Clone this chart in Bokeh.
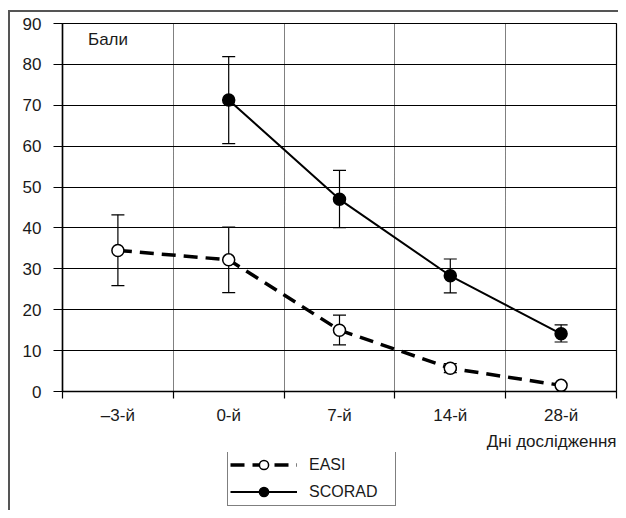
from bokeh.plotting import figure
from bokeh.layouts import column
from bokeh.models import (FixedTicker, Whisker, TeeHead, ColumnDataSource, Label,
                          Legend, LegendItem, Range1d, Title)
from bokeh.embed import file_html
from bokeh.resources import INLINE

# ---- data ----
categories = ["\u20133-й", "0-й", "7-й", "14-й", "28-й"]
easi_mean = [34.5, 32.2, 15.0, 5.7, 1.5]
easi_upper = [43.2, 40.2, 18.7, 6.8, 1.5]
easi_lower = [25.9, 24.2, 11.4, 4.6, 1.5]
scorad_days = ["0-й", "7-й", "14-й", "28-й"]
scorad_mean = [71.3, 47.0, 28.3, 14.1]
scorad_upper = [81.9, 54.1, 32.4, 16.3]
scorad_lower = [60.6, 40.1, 24.1, 12.1]
y_ticks = [0, 10, 20, 30, 40, 50, 60, 70, 80, 90]
y_title = "Бали"
x_title = "Дні дослідження"
series_names = ["EASI", "SCORAD"]

FONT = "Liberation Sans"
TXT = "#1a1a1a"
pos = {c: i + 1 for i, c in enumerate(categories)}

p = figure(width=608, height=440, output_backend="svg", toolbar_location=None,
           x_range=Range1d(0.5, len(categories) + 0.5), y_range=Range1d(0, 90),
           min_border_left=52, min_border_right=2, min_border_top=11, min_border_bottom=59)
p.outline_line_color = "black"
p.outline_line_width = 1.2
p.background_fill_color = "white"
p.border_fill_alpha = 0

# axes
p.xaxis.ticker = FixedTicker(ticks=[pos[c] for c in categories],
                             minor_ticks=[i + 0.5 for i in range(len(categories) + 1)])
p.xaxis.major_label_overrides = {pos[c]: c for c in categories}
p.xaxis.major_tick_line_color = None
p.xaxis.major_tick_out = 7
p.xaxis.major_tick_in = 0
p.xaxis.minor_tick_line_color = "black"
p.xaxis.minor_tick_out = 7
p.xaxis.minor_tick_in = 0
p.xaxis.minor_tick_line_width = 1.2
p.xaxis.major_label_standoff = 7
p.xaxis.axis_line_color = "black"
p.xaxis.axis_line_width = 1.5

p.yaxis.ticker = FixedTicker(ticks=y_ticks, minor_ticks=[])
p.yaxis.major_tick_out = 9
p.yaxis.major_tick_in = 0
p.yaxis.major_tick_line_width = 1.2
p.yaxis.major_tick_line_color = "black"
p.yaxis.minor_tick_line_color = None
p.yaxis.major_label_standoff = 12
p.yaxis.axis_line_color = "black"
p.yaxis.axis_line_width = 1.5

for ax in (p.xaxis[0], p.yaxis[0]):
    ax.major_label_text_font = FONT
    ax.major_label_text_font_size = "17px"
    ax.major_label_text_color = TXT

# grids
p.ygrid.ticker = FixedTicker(ticks=y_ticks, minor_ticks=[])
p.ygrid.grid_line_color = "black"
p.ygrid.grid_line_width = 1.2
p.ygrid.grid_line_alpha = 1
p.xgrid.ticker = FixedTicker(ticks=[i + 1.5 for i in range(len(categories) - 1)], minor_ticks=[])
p.xgrid.grid_line_color = "black"
p.xgrid.grid_line_width = 1
p.xgrid.grid_line_dash = "1 1"

EASI_LINE = dict(line_color="black", line_width=3.5, line_dash="14 8")
EASI_MARK = dict(size=12, marker="circle", fill_color="white", line_color="black", line_width=1.5)
SC_LINE = dict(line_color="black", line_width=2)
SC_MARK = dict(size=12, marker="circle", fill_color="black", line_color="black", line_width=1.5)

def whisker(src):
    return Whisker(source=src, base="x", lower="lo", upper="hi", line_color="black", line_width=1.2,
                   upper_head=TeeHead(size=13, line_color="black", line_width=1.2),
                   lower_head=TeeHead(size=13, line_color="black", line_width=1.2))

# EASI
ex = [pos[c] for c in categories]
esrc = ColumnDataSource(dict(x=ex, y=easi_mean))
ew = [(x, lo, hi) for x, lo, hi in zip(ex, easi_lower, easi_upper) if hi > lo]
ewsrc = ColumnDataSource(dict(x=[a[0] for a in ew], lo=[a[1] for a in ew], hi=[a[2] for a in ew]))
p.add_layout(whisker(ewsrc))
p.line("x", "y", source=esrc, **EASI_LINE)
p.scatter("x", "y", source=esrc, **EASI_MARK)

# SCORAD
sx = [pos[c] for c in scorad_days]
ssrc = ColumnDataSource(dict(x=sx, y=scorad_mean, lo=scorad_lower, hi=scorad_upper))
p.add_layout(whisker(ssrc))
p.line("x", "y", source=ssrc, **SC_LINE)
p.scatter("x", "y", source=ssrc, **SC_MARK)

# titles
p.add_layout(Label(x=0.73, y=88.5, text=y_title, text_font=FONT, text_font_size="17px",
                   text_baseline="top", text_color=TXT))
p.add_layout(Title(text=x_title, align="right", text_font=FONT, text_font_size="17px",
                   text_font_style="normal", text_color=TXT, offset=0, standoff=4), "below")

# legend figure (series drawn off-range, only their legend glyphs are visible)
lf = figure(width=608, height=58, output_backend="svg", toolbar_location=None,
            x_range=Range1d(100, 101), y_range=Range1d(100, 101), min_border=0,
            x_axis_location=None, y_axis_location=None)
lf.outline_line_color = None
lf.border_fill_alpha = 0
lf.background_fill_alpha = 0
lf.xgrid.visible = False
lf.ygrid.visible = False
l1 = lf.line("x", "y", source=esrc, **EASI_LINE)
m1 = lf.scatter("x", "y", source=esrc, **EASI_MARK)
l2 = lf.line("x", "y", source=ssrc, **SC_LINE)
m2 = lf.scatter("x", "y", source=ssrc, **SC_MARK)
legend = Legend(items=[LegendItem(label=series_names[0], renderers=[l1, m1]),
                       LegendItem(label=series_names[1], renderers=[l2, m2])],
                location=(165, 4), glyph_width=67, glyph_height=23, label_height=23,
                spacing=4, padding=2, margin=0, label_standoff=12, label_width=84,
                label_text_font=FONT, label_text_font_size="16px", label_text_color=TXT,
                border_line_color="black", border_line_width=1.2, background_fill_color="white",
                background_fill_alpha=1)
lf.add_layout(legend)

inner = column(p, lf, spacing=0,
               styles={"border-left": "2px solid #555", "border-top": "2px solid #555"})
outer = column(inner, styles={"padding-left": "8px", "padding-top": "10px"})

open("out.html", "w").write(file_html(outer, INLINE))
